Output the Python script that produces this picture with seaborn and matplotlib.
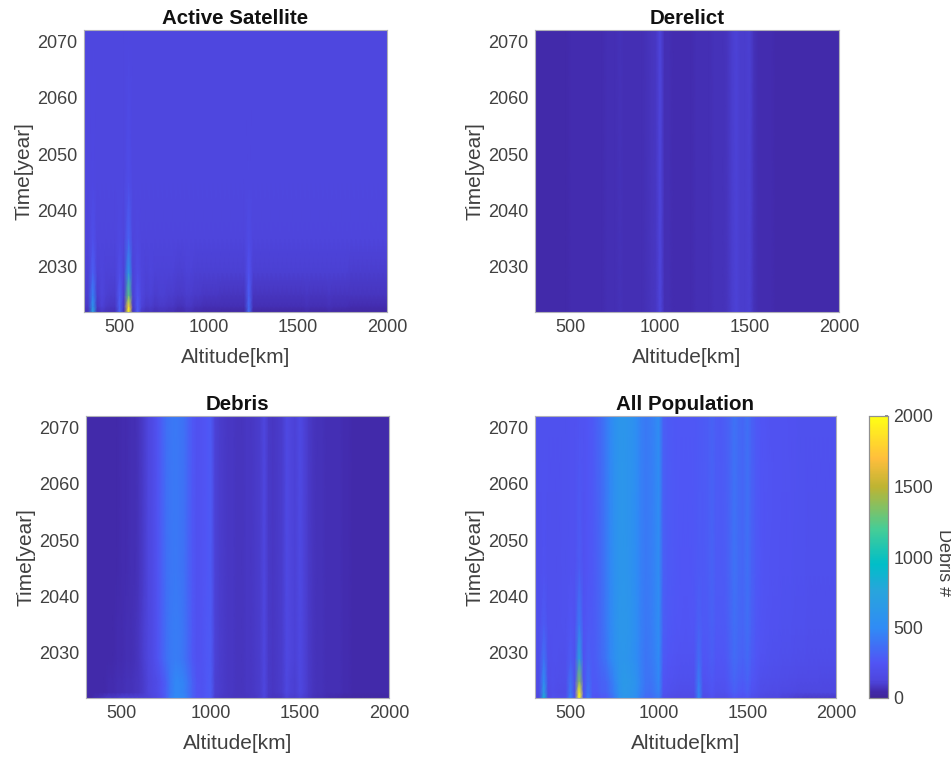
import seaborn as sns
import matplotlib.pyplot as plt
import numpy as np
from matplotlib.colors import LinearSegmentedColormap
from matplotlib.transforms import ScaledTranslation

altitudes = list(range(300, 2001, 25))
years = [2022, 2023, 2025, 2029, 2035, 2045, 2072]

# active satellites: background level per year, plus the narrow shells
active_base = [25, 50, 72, 100, 118, 125, 128]
active_350 = [750, 600, 450, 300, 200, 145, 130]
active_500 = [300, 300, 270, 180, 145, 130, 128]
active_550 = [2000, 1850, 1250, 650, 320, 185, 135]
active_600 = [280, 270, 230, 170, 140, 128, 128]
active_1225 = [350, 340, 290, 220, 165, 135, 128]
active_ripple = [30, 40, 50, 30, 60, 40, 30, 30, 0, 30,
                 0, 40, 0, 60, 40, 50, 30, 40, 40, 30,
                 30, 20, 20, 30, 30, 20, 20, 10, 10, 10,
                 10, 5, 5, 5, 5, 5, 5, 0, 5, 5,
                 5, 5, 5, 5, 5, 5, 5, 5, 5, 5,
                 15, 5, 5, 5, 5, 15, 5, 5, 5, 5,
                 0, 0, 0, 0, 0, 0, 0, 0, 0]
ripple_weight = [1.0, 1.0, 0.8, 0.4, 0.1, 0, 0]

derelict_all = [43, 43, 45, 43, 43, 43, 45, 45, 47, 47,
                47, 47, 50, 50, 52, 54, 56, 56, 58, 64,
                62, 60, 60, 62, 62, 65, 72, 82, 122, 62,
                58, 54, 52, 52, 52, 54, 56, 58, 58, 60,
                64, 64, 67, 72, 98, 110, 100, 95, 104, 68,
                54, 50, 47, 47, 45, 45, 45, 45, 45, 43,
                43, 43, 43, 43, 43, 43, 43, 43, 43]

debris_2022 = [30, 35, 60, 70, 85, 95, 90, 100, 115, 115,
               110, 115, 110, 115, 115, 130, 160, 210, 300, 430,
               490, 490, 470, 400, 300, 240, 230, 260, 270, 100,
               90, 85, 80, 75, 75, 75, 75, 80, 85, 95,
               120, 80, 75, 75, 80, 115, 100, 95, 110, 95,
               80, 70, 60, 55, 50, 45, 40, 35, 30, 28,
               28, 25, 25, 25, 25, 25, 25, 25, 25]
debris_2025 = [40, 40, 42, 42, 45, 48, 50, 55, 60, 65,
               70, 75, 85, 100, 120, 145, 175, 235, 310, 420,
               480, 480, 460, 390, 300, 240, 230, 265, 285, 105,
               95, 90, 85, 80, 78, 78, 80, 85, 90, 100,
               125, 90, 85, 90, 100, 135, 115, 105, 135, 110,
               90, 75, 70, 65, 60, 58, 55, 55, 50, 48,
               45, 45, 42, 42, 42, 40, 40, 40, 40]
debris_2035 = [40, 40, 40, 42, 42, 45, 45, 48, 52, 55,
               60, 68, 82, 105, 130, 170, 230, 300, 370, 420,
               430, 425, 390, 330, 265, 225, 235, 260, 280, 110,
               95, 90, 85, 80, 78, 78, 80, 85, 90, 100,
               125, 90, 85, 90, 100, 145, 120, 110, 145, 115,
               90, 75, 70, 65, 60, 58, 55, 55, 50, 48,
               45, 45, 42, 42, 42, 40, 40, 40, 40]
debris_2072 = [40, 40, 40, 40, 42, 42, 42, 45, 48, 50,
               55, 60, 75, 95, 125, 165, 230, 300, 370, 405,
               415, 405, 375, 320, 260, 225, 235, 255, 275, 110,
               95, 90, 85, 80, 78, 78, 80, 85, 90, 100,
               125, 90, 85, 90, 100, 150, 120, 110, 150, 115,
               90, 75, 70, 65, 60, 58, 55, 55, 50, 48,
               45, 45, 42, 42, 42, 40, 40, 40, 40]

x_ticks = [500, 1000, 1500, 2000]
y_ticks = [2030, 2040, 2050, 2060, 2070]
titles = ['Active Satellite', 'Derelict', 'Debris', 'All Population']

# parula-like map
cbar_colors = [(0, '#402696'), (0.02, '#422AAA'), (0.06, '#4E46DE'), (0.125, '#5055F5'),
               (0.25, '#2F8CF5'), (0.38, '#28A5DC'), (0.475, '#00BEC8'), (0.6, '#46CD96'),
               (0.75, '#BEB432'), (0.85, '#FFBE3C'), (1, '#FFFF14')]
parula = LinearSegmentedColormap.from_list('parula_like', cbar_colors)

active = np.array([[active_base[i] + active_ripple[j] * ripple_weight[i] for j in range(len(altitudes))]
                   for i in range(len(years))], dtype=float)
active[:, altitudes.index(350)] = active_350
active[:, altitudes.index(500)] = active_500
active[:, altitudes.index(550)] = active_550
active[:, altitudes.index(600)] = active_600
active[:, altitudes.index(1225)] = active_1225
derelict = np.array([derelict_all] * len(years), dtype=float)
debris = np.array([debris_2022, debris_2025, debris_2025, debris_2035, debris_2035, debris_2072, debris_2072],
                  dtype=float)
total = active + derelict + debris
panels = [active, derelict, debris, total]

sns.set_theme(style='white')
plt.rcParams['font.family'] = ['Liberation Sans', 'DejaVu Sans']

W, H = 951, 759
fig = plt.figure(figsize=(W / 100, H / 100), dpi=100)
boxes = [(84, 30, 303, 282), (535, 30, 304, 282), (86, 416, 303, 282), (535, 416, 301, 282)]
cax = fig.add_axes([869 / W, 1 - 698 / H, 19 / W, 282 / H])

rows = np.arange(len(years))
nudge = ScaledTranslation(0, -2 / 100, fig.dpi_scale_trans)


def row_to_year(v):
    return np.interp(v, rows, years)


def year_to_row(v):
    return np.interp(v, years, rows)


for k, (box, data) in enumerate(zip(boxes, panels)):
    x0, y0, w, h = box
    ax = fig.add_axes([x0 / W, 1 - (y0 + h) / H, w / W, h / H])
    last = k == 3
    sns.heatmap(data, ax=ax, cmap=parula, vmin=0, vmax=2000, shading='gouraud',
                cbar=last, cbar_ax=cax if last else None,
                cbar_kws={'ticks': [0, 500, 1000, 1500, 2000]} if last else None)
    ax.set_yscale('function', functions=(row_to_year, year_to_row))
    ax.set_xlim(0, len(altitudes) - 1)
    ax.set_ylim(0, len(years) - 1)
    ax.set_xticks([altitudes.index(a) for a in x_ticks])
    ax.set_xticklabels([str(a) for a in x_ticks], rotation=0)
    ax.set_yticks(year_to_row(y_ticks))
    ax.set_yticklabels([str(y) for y in y_ticks], rotation=0)
    ax.minorticks_off()
    ax.tick_params(labelsize=13, labelcolor='#404040', length=2, direction='in', color='#808080', pad=5)
    for label in ax.get_yticklabels():
        label.set_transform(label.get_transform() + nudge)
    ax.set_xlabel('Altitude[km]', fontsize=15, color='#404040', labelpad=9)
    ax.set_ylabel('Time[year]', fontsize=15, color='#404040', labelpad=2)
    ax.set_title(titles[k], fontsize=14.8, fontweight='bold', color='#111111', pad=4)
    for spine in ax.spines.values():
        spine.set_visible(True)
        spine.set_color('#b0b0b8')
        spine.set_linewidth(0.8)

cax.tick_params(labelsize=12.8, labelcolor='#404040', length=2, direction='in', color='#808080', pad=4)
cax.set_ylabel('Debris #', fontsize=13, color='#404040', rotation=270, va='center')
cax.yaxis.set_label_coords(3.92, 0.48)
for spine in cax.spines.values():
    spine.set_visible(True)
    spine.set_color('#909090')
    spine.set_linewidth(0.8)

fig.savefig('out.png', dpi=100)
